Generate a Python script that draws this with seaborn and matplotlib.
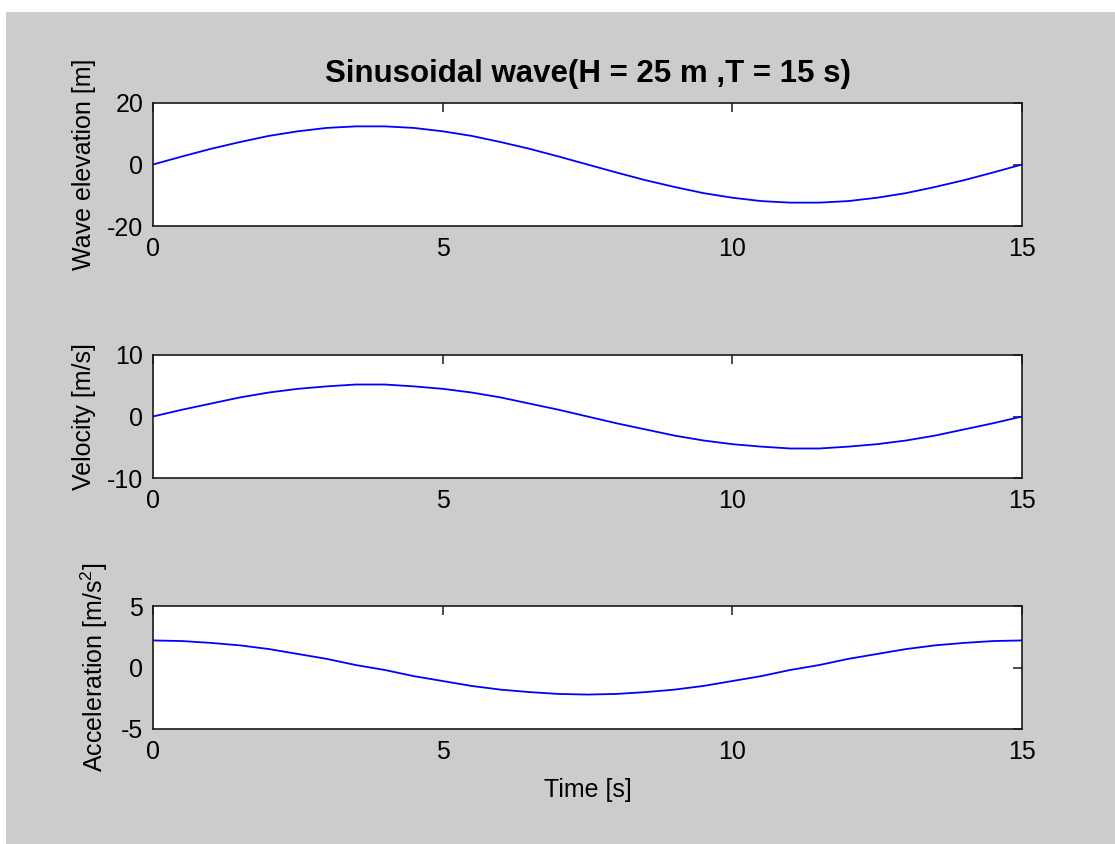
import numpy as np
import pandas as pd
import matplotlib
matplotlib.use("Agg")
import matplotlib.pyplot as plt
from matplotlib.patches import Rectangle
import seaborn as sns

# values, every 0.5 s
time_s = [0.0, 0.5, 1.0, 1.5, 2.0, 2.5, 3.0, 3.5, 4.0, 4.5, 5.0, 5.5, 6.0, 6.5, 7.0, 7.5,
          8.0, 8.5, 9.0, 9.5, 10.0, 10.5, 11.0, 11.5, 12.0, 12.5, 13.0, 13.5, 14.0, 14.5, 15.0]
elevation = [0.0, 2.6, 5.1, 7.3, 9.3, 10.8, 11.9, 12.4, 12.4, 11.9, 10.8, 9.3, 7.3, 5.1, 2.6, 0.0,
             -2.6, -5.1, -7.3, -9.3, -10.8, -11.9, -12.4, -12.4, -11.9, -10.8, -9.3, -7.3, -5.1, -2.6, 0.0]
velocity = [0.0, 1.1, 2.1, 3.1, 3.9, 4.5, 4.9, 5.2, 5.2, 4.9, 4.5, 3.9, 3.1, 2.1, 1.1, 0.0,
            -1.1, -2.1, -3.1, -3.9, -4.5, -4.9, -5.2, -5.2, -4.9, -4.5, -3.9, -3.1, -2.1, -1.1, 0.0]
acceleration = [2.2, 2.15, 2.0, 1.8, 1.5, 1.1, 0.7, 0.2, -0.2, -0.7, -1.1, -1.5, -1.8, -2.0, -2.15, -2.2,
                -2.15, -2.0, -1.8, -1.5, -1.1, -0.7, -0.2, 0.2, 0.7, 1.1, 1.5, 1.8, 2.0, 2.15, 2.2]

x_ticks = [0, 5, 10, 15]
panels = [
    ("elevation", "Wave elevation [m]", [-20, 0, 20]),
    ("velocity", "Velocity [m/s]", [-10, 0, 10]),
    ("acceleration", r"Acceleration [m/s$^2$]", [-5, 0, 5]),
]
title = "Sinusoidal wave(H = 25 m ,T = 15 s)"

df = pd.DataFrame({"time": time_s, "elevation": elevation,
                   "velocity": velocity, "acceleration": acceleration})

sns.set_style("white")
plt.rcParams["font.family"] = ["Liberation Sans", "DejaVu Sans"]
plt.rcParams["mathtext.fontset"] = "custom"
plt.rcParams["mathtext.rm"] = "Liberation Sans"
plt.rcParams["mathtext.it"] = "Liberation Sans"
plt.rcParams["axes.unicode_minus"] = False
plt.rcParams["text.color"] = "black"
plt.rcParams["axes.labelcolor"] = "black"
plt.rcParams["axes.edgecolor"] = "#1a1a1a"

fig = plt.figure(figsize=(11.15, 8.44), dpi=100)
fig.patch.set_facecolor("white")
fig.patches.append(Rectangle((6 / 1115, 0), 1, (844 - 12) / 844, transform=fig.transFigure,
                             facecolor="#cccccc", edgecolor="none", zorder=-10))

left, width, height = 153 / 1115, 869 / 1115, 123 / 844
bottoms = [(844 - 226) / 844, (844 - 478) / 844, (844 - 729) / 844]

for (col, label, yt), b in zip(panels, bottoms):
    ax = fig.add_axes([left, b, width, height])
    ax.set_facecolor("white")
    sns.lineplot(data=df, x="time", y=col, ax=ax, color="#0000ff", linewidth=1.3)
    ax.set_xlim(0, 15)
    ax.set_ylim(yt[0], yt[-1])
    ax.set_xticks(x_ticks)
    ax.set_yticks(yt)
    ax.tick_params(direction="in", length=6.5, width=1.1, top=True, right=True,
                   labelsize=18, colors="#1a1a1a", labelcolor="black")
    ax.tick_params(axis="x", pad=8)
    ax.tick_params(axis="y", pad=7)
    for s in ax.spines.values():
        s.set_linewidth(1.2)
        s.set_visible(True)
    ax.set_ylabel(label, fontsize=18, labelpad=8)
    ax.set_xlabel("")
    if col == "elevation":
        ax.set_title(title, fontsize=22.5, fontweight="bold", pad=15)
    if col == "acceleration":
        ax.set_xlabel("Time [s]", fontsize=18, labelpad=10)

fig.savefig("out.png", dpi=100, facecolor=fig.get_facecolor())
